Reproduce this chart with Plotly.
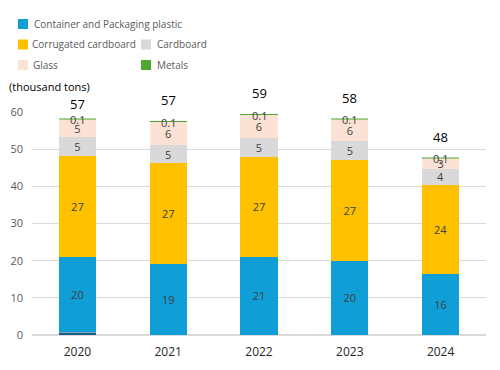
import plotly.graph_objects as go

years = ["2020", "2021", "2022", "2023", "2024"]
other_plastic = [0.8, 0, 0, 0, 0]
plastic = [20.3, 19.0, 21.0, 20.0, 16.3]
corrugated = [27.0, 27.2, 27.0, 27.0, 24.1]
cardboard = [5.1, 4.9, 5.1, 5.1, 4.3]
glass = [4.9, 6.3, 6.2, 6.0, 2.9]
metals = [0.1, 0.1, 0.1, 0.1, 0.1]
totals = ["57", "57", "59", "58", "48"]
y_ticks = [0, 10, 20, 30, 40, 50, 60]

series_names = ["Container and Packaging plastic", "Corrugated cardboard", "Cardboard",
                "Glass", "Metals"]
series_colors = ["#0F9ED5", "#FFC000", "#D9D9D9", "#FBE2D5", "#4EA72E"]

FONT = "Open Sans"
LABEL_COLOR = "#404040"
# plot area in pixels (for paper-coordinate conversions)
PL, PR, PT, PB = 32, 486, 112, 335

def px_x(px):
    return (px - PL) / (PR - PL)

def px_y(py):
    return (PB - py) / (PB - PT)

fig = go.Figure()

fig.add_trace(go.Bar(x=years, y=other_plastic, marker_color="#1B5E86",
                     showlegend=False, hoverinfo="skip"))

def seg(name, vals, color, show_text=True, line_width=0):
    fig.add_trace(go.Bar(
        x=years, y=vals, name=name, showlegend=False,
        marker=dict(color=color, line=dict(color=color, width=line_width)),
        text=[f"{v:.0f}" for v in vals] if show_text else None,
        textposition="inside" if show_text else "none",
        insidetextanchor="middle", textangle=0,
        textfont=dict(family=FONT, size=11, color=LABEL_COLOR),
    ))

seg(series_names[0], plastic, series_colors[0])
seg(series_names[1], corrugated, series_colors[1])
seg(series_names[2], cardboard, series_colors[2])
seg(series_names[3], glass, series_colors[3])
seg(series_names[4], metals, series_colors[4], show_text=False, line_width=0.5)

tops = [a + b + c + d + e + f for a, b, c, d, e, f in
        zip(other_plastic, plastic, corrugated, cardboard, glass, metals)]
total_shift = [15, 21, 21, 21, 21]
for i, (top, t, s) in enumerate(zip(tops, totals, total_shift)):
    fig.add_annotation(x=i, y=top, text=t, showarrow=False, yanchor="middle",
                       yshift=s, font=dict(family=FONT, size=13, color="#000000"))
    fig.add_annotation(x=i, y=top, text=f"{metals[i]:.1f}", showarrow=False,
                       yanchor="middle", yshift=-1,
                       font=dict(family=FONT, size=11, color=LABEL_COLOR))

# legend (swatch left px, row center px, text left px)
legend_pos = [(18, 24, 32), (18, 44.5, 30), (141, 44.5, 155), (18, 65, 31), (141, 65, 155)]
for name, color, (sx, cy, tx) in zip(series_names, series_colors, legend_pos):
    fig.add_shape(type="rect", xref="paper", yref="paper",
                  x0=px_x(sx), x1=px_x(sx + 10), y0=px_y(cy - 5), y1=px_y(cy + 5),
                  fillcolor=color, line_width=0, layer="above")
    fig.add_annotation(xref="paper", yref="paper", x=px_x(tx), y=px_y(cy),
                       xanchor="left", yanchor="middle", text=name, showarrow=False,
                       font=dict(family=FONT, size=10, color="#595959"))

fig.add_annotation(xref="paper", yref="paper", x=px_x(7), y=px_y(86),
                   xanchor="left", yanchor="middle", text="(thousand tons)", showarrow=False,
                   font=dict(family=FONT, size=11, color="#000000"))

fig.update_layout(
    width=500, height=370,
    margin=dict(l=PL, r=500 - PR, t=PT, b=370 - PB, autoexpand=False),
    barmode="stack", bargap=0.59,
    plot_bgcolor="white", paper_bgcolor="white",
    font=dict(family=FONT, size=11, color="#595959"),
    uniformtext=dict(minsize=11, mode="show"),
    showlegend=False,
    xaxis=dict(type="category", range=[-0.5, 4.5], showgrid=False, showline=False,
               ticks="", ticklabelstandoff=8, automargin=False,
               tickfont=dict(family=FONT, size=12, color="#262626")),
    yaxis=dict(range=[0, 60], tickvals=y_ticks, showgrid=True, gridcolor="#D9D9D9",
               gridwidth=1, zeroline=True, zerolinecolor="#D9D9D9", ticks="",
               ticklabelstandoff=8, automargin=False,
               tickfont=dict(family=FONT, size=11, color="#595959")),
)

fig.write_html("out.html", config={"displayModeBar": False},
               post_script="document.body.style.margin='0';")
